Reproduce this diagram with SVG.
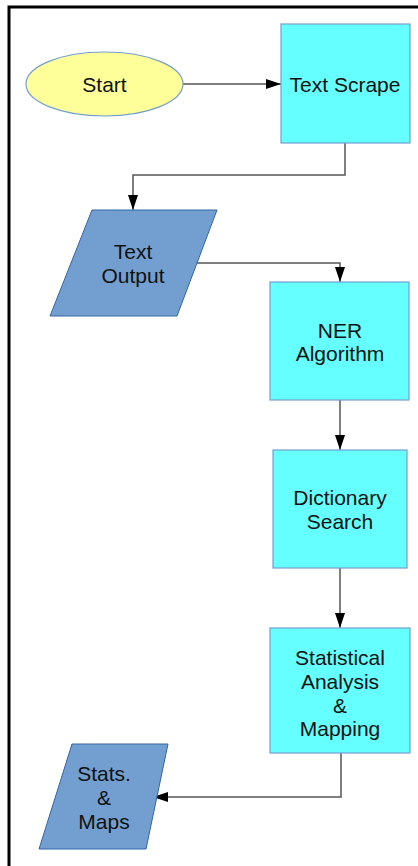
<svg xmlns="http://www.w3.org/2000/svg" width="418" height="866" viewBox="0 0 418 866">
  <defs>
    <marker id="arrow" viewBox="0 0 15 10" refX="15" refY="5" markerWidth="15" markerHeight="10" markerUnits="userSpaceOnUse" orient="auto">
      <path d="M0,0 L15,5 L0,10 Z" fill="#000"/>
    </marker>
    <style>
      .proc { fill: #66ffff; stroke: #729fcf; stroke-width: 1.2; }
      .io { fill: #729fcf; stroke: #3465a4; stroke-width: 1; }
      .term { fill: #ffff99; stroke: #729fcf; stroke-width: 1.2; }
      .lbl { font-family: "Liberation Sans", Arial, sans-serif; font-size: 21px; fill: #111; text-anchor: middle; }
      .edge { fill: none; stroke: #555; stroke-width: 1.5; marker-end: url(#arrow); }
    </style>
  </defs>

  <rect width="418" height="866" fill="#fff"/>
  <!-- page frame -->
  <path d="M9,880 L9,7 L430,7" fill="none" stroke="#000" stroke-width="3"/>

  <g id="connectors">
    <path class="edge" d="M183,84 L281,84"/>
    <path class="edge" d="M345,143 L345,175 L133,175 L133,210"/>
    <path class="edge" d="M197,263 L340,263 L340,282"/>
    <path class="edge" d="M340,400 L340,450"/>
    <path class="edge" d="M340,568 L340,628"/>
    <path class="edge" d="M341,753 L341,797 L153,797"/>
  </g>

  <g id="start">
    <ellipse class="term" cx="104.5" cy="84" rx="78.5" ry="32"/>
    <text class="lbl" x="104.5" y="91.5">Start</text>
  </g>

  <g id="text-scrape">
    <rect class="proc" x="281" y="24" width="129" height="119"/>
    <text class="lbl" x="345" y="91.5">Text Scrape</text>
  </g>

  <g id="text-output">
    <polygon class="io" points="92,210 217,210 177,316 50,316"/>
    <text class="lbl" x="133" y="259">Text</text>
    <text class="lbl" x="133" y="283">Output</text>
  </g>

  <g id="ner-algorithm">
    <rect class="proc" x="270" y="282" width="139" height="118"/>
    <text class="lbl" x="340" y="337.5">NER</text>
    <text class="lbl" x="340" y="361">Algorithm</text>
  </g>

  <g id="dictionary-search">
    <rect class="proc" x="273" y="450" width="134" height="118"/>
    <text class="lbl" x="340" y="504.5">Dictionary</text>
    <text class="lbl" x="340" y="528.5">Search</text>
  </g>

  <g id="statistical-analysis">
    <rect class="proc" x="270" y="628" width="140" height="125"/>
    <text class="lbl" x="340" y="664.5">Statistical</text>
    <text class="lbl" x="340" y="688.5">Analysis</text>
    <text class="lbl" x="340" y="712.5">&amp;</text>
    <text class="lbl" x="340" y="736">Mapping</text>
  </g>

  <g id="stats-maps">
    <polygon class="io" points="72,744 168,744 146,849 39,849"/>
    <text class="lbl" x="104" y="780.5">Stats.</text>
    <text class="lbl" x="104" y="804.5">&amp;</text>
    <text class="lbl" x="104" y="829">Maps</text>
  </g>
</svg>
